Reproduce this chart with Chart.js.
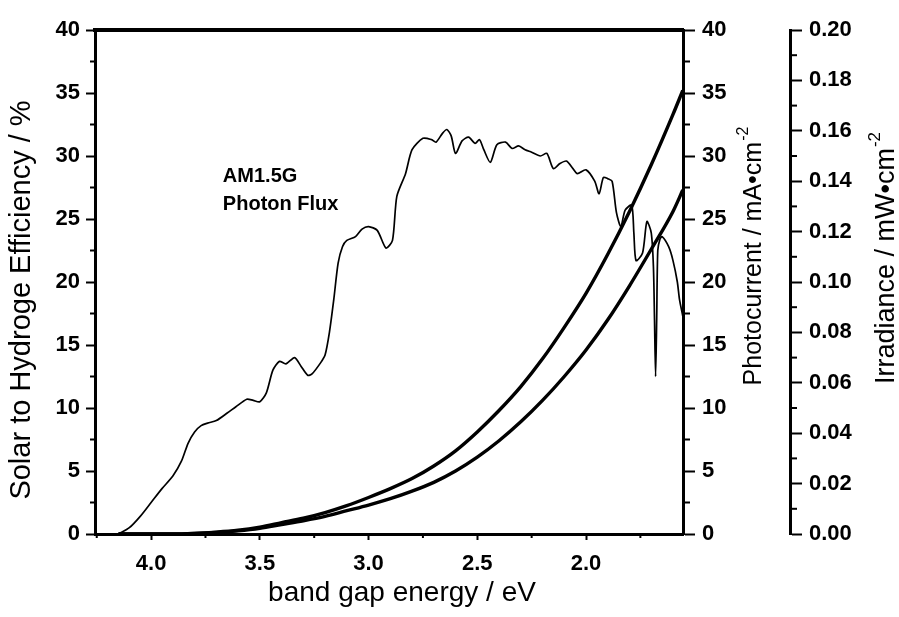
<!DOCTYPE html>
<html>
<head>
<meta charset="utf-8">
<script src="https://cdn.jsdelivr.net/npm/chart.js@4.4.1/dist/chart.umd.min.js"></script>
<style>
  html, body { margin: 0; padding: 0; background: #fff; }
  canvas { display: block; }
</style>
</head>
<body>
<canvas id="chart" width="899" height="617"></canvas>
<script>
// AM1.5G photon flux (thin line), band gap energy in eV
const fluxEnergy = [4.15, 4.10, 4.05, 4.00, 3.95, 3.90, 3.86, 3.83, 3.80, 3.77, 3.74, 3.70, 3.65, 3.61, 3.56, 3.53, 3.50, 3.47, 3.44, 3.41, 3.38, 3.34, 3.31, 3.28, 3.26, 3.22, 3.20, 3.18, 3.16, 3.14, 3.12, 3.10, 3.06, 3.03, 3.00, 2.96, 2.92, 2.89, 2.87, 2.83, 2.80, 2.75, 2.71, 2.69, 2.66, 2.64, 2.62, 2.60, 2.57, 2.54, 2.51, 2.49, 2.47, 2.44, 2.41, 2.37, 2.34, 2.31, 2.28, 2.25, 2.21, 2.18, 2.15, 2.12, 2.09, 2.06, 2.04, 2.00, 1.96, 1.94, 1.92, 1.90, 1.88, 1.86, 1.84, 1.82, 1.79, 1.78, 1.77, 1.74, 1.72, 1.70, 1.69, 1.685, 1.68, 1.675, 1.67, 1.66, 1.65, 1.62, 1.60, 1.58, 1.57, 1.555];
const fluxValue  = [0, 0.5, 1.4, 2.5, 3.6, 4.6, 5.8, 7.2, 8.1, 8.6, 8.8, 9.0, 9.6, 10.1, 10.7, 10.6, 10.5, 11.2, 13.0, 13.7, 13.5, 14.0, 13.3, 12.6, 12.7, 13.6, 14.2, 16.0, 18.6, 21.5, 22.8, 23.3, 23.6, 24.2, 24.4, 24.1, 22.7, 23.3, 26.8, 28.6, 30.5, 31.4, 31.3, 31.1, 31.8, 32.1, 31.6, 30.2, 31.2, 31.5, 31.0, 31.3, 30.5, 29.5, 30.9, 31.1, 30.6, 30.8, 30.5, 30.3, 30.0, 30.2, 29.0, 29.4, 29.6, 29.0, 28.6, 28.9, 28.0, 27.0, 28.3, 28.2, 28.0, 25.5, 24.4, 25.7, 26.1, 23.9, 21.7, 22.3, 24.8, 23.9, 21.2, 17.0, 12.5, 17.0, 22.5, 23.4, 23.6, 22.8, 21.7, 20.0, 18.6, 17.3];

// thick curves: photocurrent and solar-to-hydrogen efficiency
const curveEnergy   = [4.15, 3.9, 3.8, 3.7, 3.6, 3.5, 3.4, 3.3, 3.2, 3.1, 3.0, 2.9, 2.8, 2.7, 2.6, 2.5, 2.4, 2.3, 2.2, 2.1, 2.0, 1.9, 1.8, 1.7, 1.6, 1.555];
const photocurrent  = [0, 0, 0.05, 0.15, 0.3, 0.55, 0.9, 1.25, 1.7, 2.25, 2.9, 3.6, 4.4, 5.4, 6.6, 8.1, 9.8, 11.7, 13.9, 16.4, 19.1, 22.2, 25.6, 29.3, 33.3, 35.2];
const sthEfficiency = [0, 0, 0.04, 0.12, 0.25, 0.45, 0.75, 1.05, 1.4, 1.85, 2.3, 2.8, 3.4, 4.1, 5.0, 6.1, 7.4, 8.9, 10.6, 12.5, 14.6, 17.0, 19.7, 22.6, 25.6, 27.3];

// ticks
const xTicks = [4.0, 3.5, 3.0, 2.5, 2.0];
const xMinor = [4.25, 3.75, 3.25, 2.75, 2.25, 1.75];
const effTicks = [0, 5, 10, 15, 20, 25, 30, 35, 40];
const effMinor = [2.5, 7.5, 12.5, 17.5, 22.5, 27.5, 32.5, 37.5];
const irrTicks = [0, 0.02, 0.04, 0.06, 0.08, 0.10, 0.12, 0.14, 0.16, 0.18, 0.20];
const irrMinor = [0.01, 0.03, 0.05, 0.07, 0.09, 0.11, 0.13, 0.15, 0.17, 0.19];

const fluxLabel = ['AM1.5G', 'Photon Flux'];

const FONT = '"Liberation Sans", Arial, sans-serif';
const toPoints = (xs, ys) => xs.map((x, i) => ({ x: x, y: ys[i] }));
const setTicks = vals => scale => { scale.ticks = vals.map(v => ({ value: v })); };

// short minor tick marks drawn on the axes
const minorTicks = {
  id: 'minorTicks',
  afterDraw(chart, args, opts) {
    const ctx = chart.ctx;
    ctx.save();
    ctx.strokeStyle = '#000';
    ctx.lineWidth = 2;
    for (const id in opts.scales) {
      const s = chart.scales[id];
      const cfg = opts.scales[id];
      cfg.values.forEach(v => {
        ctx.beginPath();
        const p = s.getPixelForValue(v);
        if (s.isHorizontal()) {
          ctx.moveTo(p, s.top);
          ctx.lineTo(p, s.top + cfg.length);
        } else if (s.position === 'left') {
          ctx.moveTo(s.right, p);
          ctx.lineTo(s.right - cfg.length, p);
        } else {
          ctx.moveTo(s.left, p);
          ctx.lineTo(s.left + cfg.length, p);
        }
        ctx.stroke();
      });
    }
    ctx.restore();
  }
};

// axis titles: vertical ones read bottom to top, optional superscript
const axisTitles = {
  id: 'axisTitles',
  afterDraw(chart, args, opts) {
    const ctx = chart.ctx;
    const area = chart.chartArea;
    opts.items.forEach(t => {
      const s = chart.scales[t.scale];
      let cx, cy, rot;
      if (s.isHorizontal()) {
        cx = (area.left + area.right) / 2 + t.shift;
        cy = s.bottom - t.offset;
        rot = 0;
      } else {
        cx = s.position === 'left' ? s.left + t.offset : s.right - t.offset;
        cy = (area.top + area.bottom) / 2 + t.shift;
        rot = -Math.PI / 2;
      }
      ctx.save();
      ctx.translate(cx, cy);
      ctx.rotate(rot);
      ctx.fillStyle = '#000';
      ctx.textBaseline = 'middle';
      ctx.textAlign = 'left';
      const mainFont = t.size + 'px ' + FONT;
      const supFont = Math.round(t.size * 0.62) + 'px ' + FONT;
      const sup = t.sup || '';
      ctx.font = mainFont;
      const wMain = ctx.measureText(t.text).width;
      ctx.font = supFont;
      const wSup = sup ? ctx.measureText(sup).width + 1 : 0;
      const x0 = -(wMain + wSup) / 2;
      ctx.font = mainFont;
      ctx.fillText(t.text, x0, 0);
      if (sup) {
        ctx.font = supFont;
        ctx.fillText(sup, x0 + wMain + 1, -t.size * 0.42);
      }
      ctx.restore();
    });
  }
};

// "AM1.5G Photon Flux" note inside the plot
const noteText = {
  id: 'noteText',
  afterDatasetsDraw(chart) {
    const { ctx, scales: { x, y } } = chart;
    ctx.save();
    ctx.font = 'bold 20px ' + FONT;
    ctx.fillStyle = '#000';
    ctx.textAlign = 'left';
    ctx.textBaseline = 'alphabetic';
    const px = x.getPixelForValue(3.67);
    const py = y.getPixelForValue(27.9);
    fluxLabel.forEach((t, i) => ctx.fillText(t, px, py + i * 28));
    ctx.restore();
  }
};

const tickFont = { family: FONT, size: 22, weight: 'bold' };

new Chart(document.getElementById('chart'), {
  type: 'line',
  data: {
    datasets: [
      {
        label: 'AM1.5G Photon Flux',
        data: toPoints(fluxEnergy, fluxValue),
        borderColor: '#000',
        borderWidth: 1.7,
        pointRadius: 0,
        tension: 0.25,
        xAxisID: 'x',
        yAxisID: 'y'
      },
      {
        label: 'Photocurrent',
        data: toPoints(curveEnergy, photocurrent),
        borderColor: '#000',
        borderWidth: 3.4,
        pointRadius: 0,
        cubicInterpolationMode: 'monotone',
        xAxisID: 'x',
        yAxisID: 'y1'
      },
      {
        label: 'Solar to Hydrogen Efficiency',
        data: toPoints(curveEnergy, sthEfficiency),
        borderColor: '#000',
        borderWidth: 3.4,
        pointRadius: 0,
        cubicInterpolationMode: 'monotone',
        xAxisID: 'x',
        yAxisID: 'y'
      }
    ]
  },
  options: {
    responsive: false,
    animation: false,
    layout: { padding: 0 },
    plugins: {
      legend: { display: false },
      tooltip: { enabled: false },
      minorTicks: {
        scales: {
          x:  { values: xMinor,   length: 4 },
          y:  { values: effMinor, length: 5 },
          y1: { values: effMinor, length: 7 },
          y2: { values: irrMinor, length: 7 }
        }
      },
      axisTitles: {
        items: [
          { scale: 'x',  text: 'band gap energy / eV', size: 28, offset: 24, shift: 13 },
          { scale: 'y',  text: 'Solar to Hydroge Efficiency / %', size: 29, offset: 22, shift: 18 },
          { scale: 'y1', text: 'Photocurrent / mA•cm', sup: '-2', size: 25, offset: 36, shift: -26 },
          { scale: 'y2', text: 'Irradiance / mW•cm', sup: '-2', size: 27, offset: 12, shift: -24 }
        ]
      }
    },
    scales: {
      x: {
        type: 'linear',
        position: 'bottom',
        min: 1.554,
        max: 4.258,
        reverse: true,
        afterBuildTicks: setTicks(xTicks),
        afterFit: s => { s.height = 83; },
        ticks: { font: tickFont, color: '#000', padding: 11, maxRotation: 0, callback: v => v.toFixed(1) },
        grid: { drawOnChartArea: false, tickLength: 6, tickWidth: 2, tickColor: '#000', color: '#000' },
        border: { width: 3, color: '#000' }
      },
      xTop: {
        type: 'linear',
        position: 'top',
        min: 1.554,
        max: 4.258,
        reverse: true,
        afterFit: s => { s.height = 30; },
        ticks: { display: false },
        grid: { display: false },
        border: { width: 4, color: '#000' }
      },
      y: {
        type: 'linear',
        position: 'left',
        min: 0,
        max: 40,
        afterBuildTicks: setTicks(effTicks),
        afterFit: s => { s.width = 95; },
        ticks: { font: tickFont, color: '#000', padding: 6 },
        grid: { drawOnChartArea: false, tickLength: 9, tickWidth: 2, tickColor: '#000', color: '#000' },
        border: { width: 3, color: '#000' }
      },
      y1: {
        type: 'linear',
        position: 'right',
        min: 0,
        max: 40,
        afterBuildTicks: setTicks(effTicks),
        afterFit: s => { s.width = 107; },
        ticks: { font: tickFont, color: '#000', padding: 7 },
        grid: { drawOnChartArea: false, tickLength: 12, tickWidth: 2, tickColor: '#000', color: '#000' },
        border: { width: 3, color: '#000' }
      },
      y2: {
        type: 'linear',
        position: 'right',
        min: 0,
        max: 0.2,
        afterBuildTicks: setTicks(irrTicks),
        afterFit: s => { s.width = 109; },
        ticks: { font: tickFont, color: '#000', padding: 7, callback: v => v.toFixed(2) },
        grid: { drawOnChartArea: false, tickLength: 12, tickWidth: 2, tickColor: '#000', color: '#000' },
        border: { width: 3, color: '#000' }
      }
    }
  },
  plugins: [minorTicks, axisTitles, noteText]
});
</script>
</body>
</html>
